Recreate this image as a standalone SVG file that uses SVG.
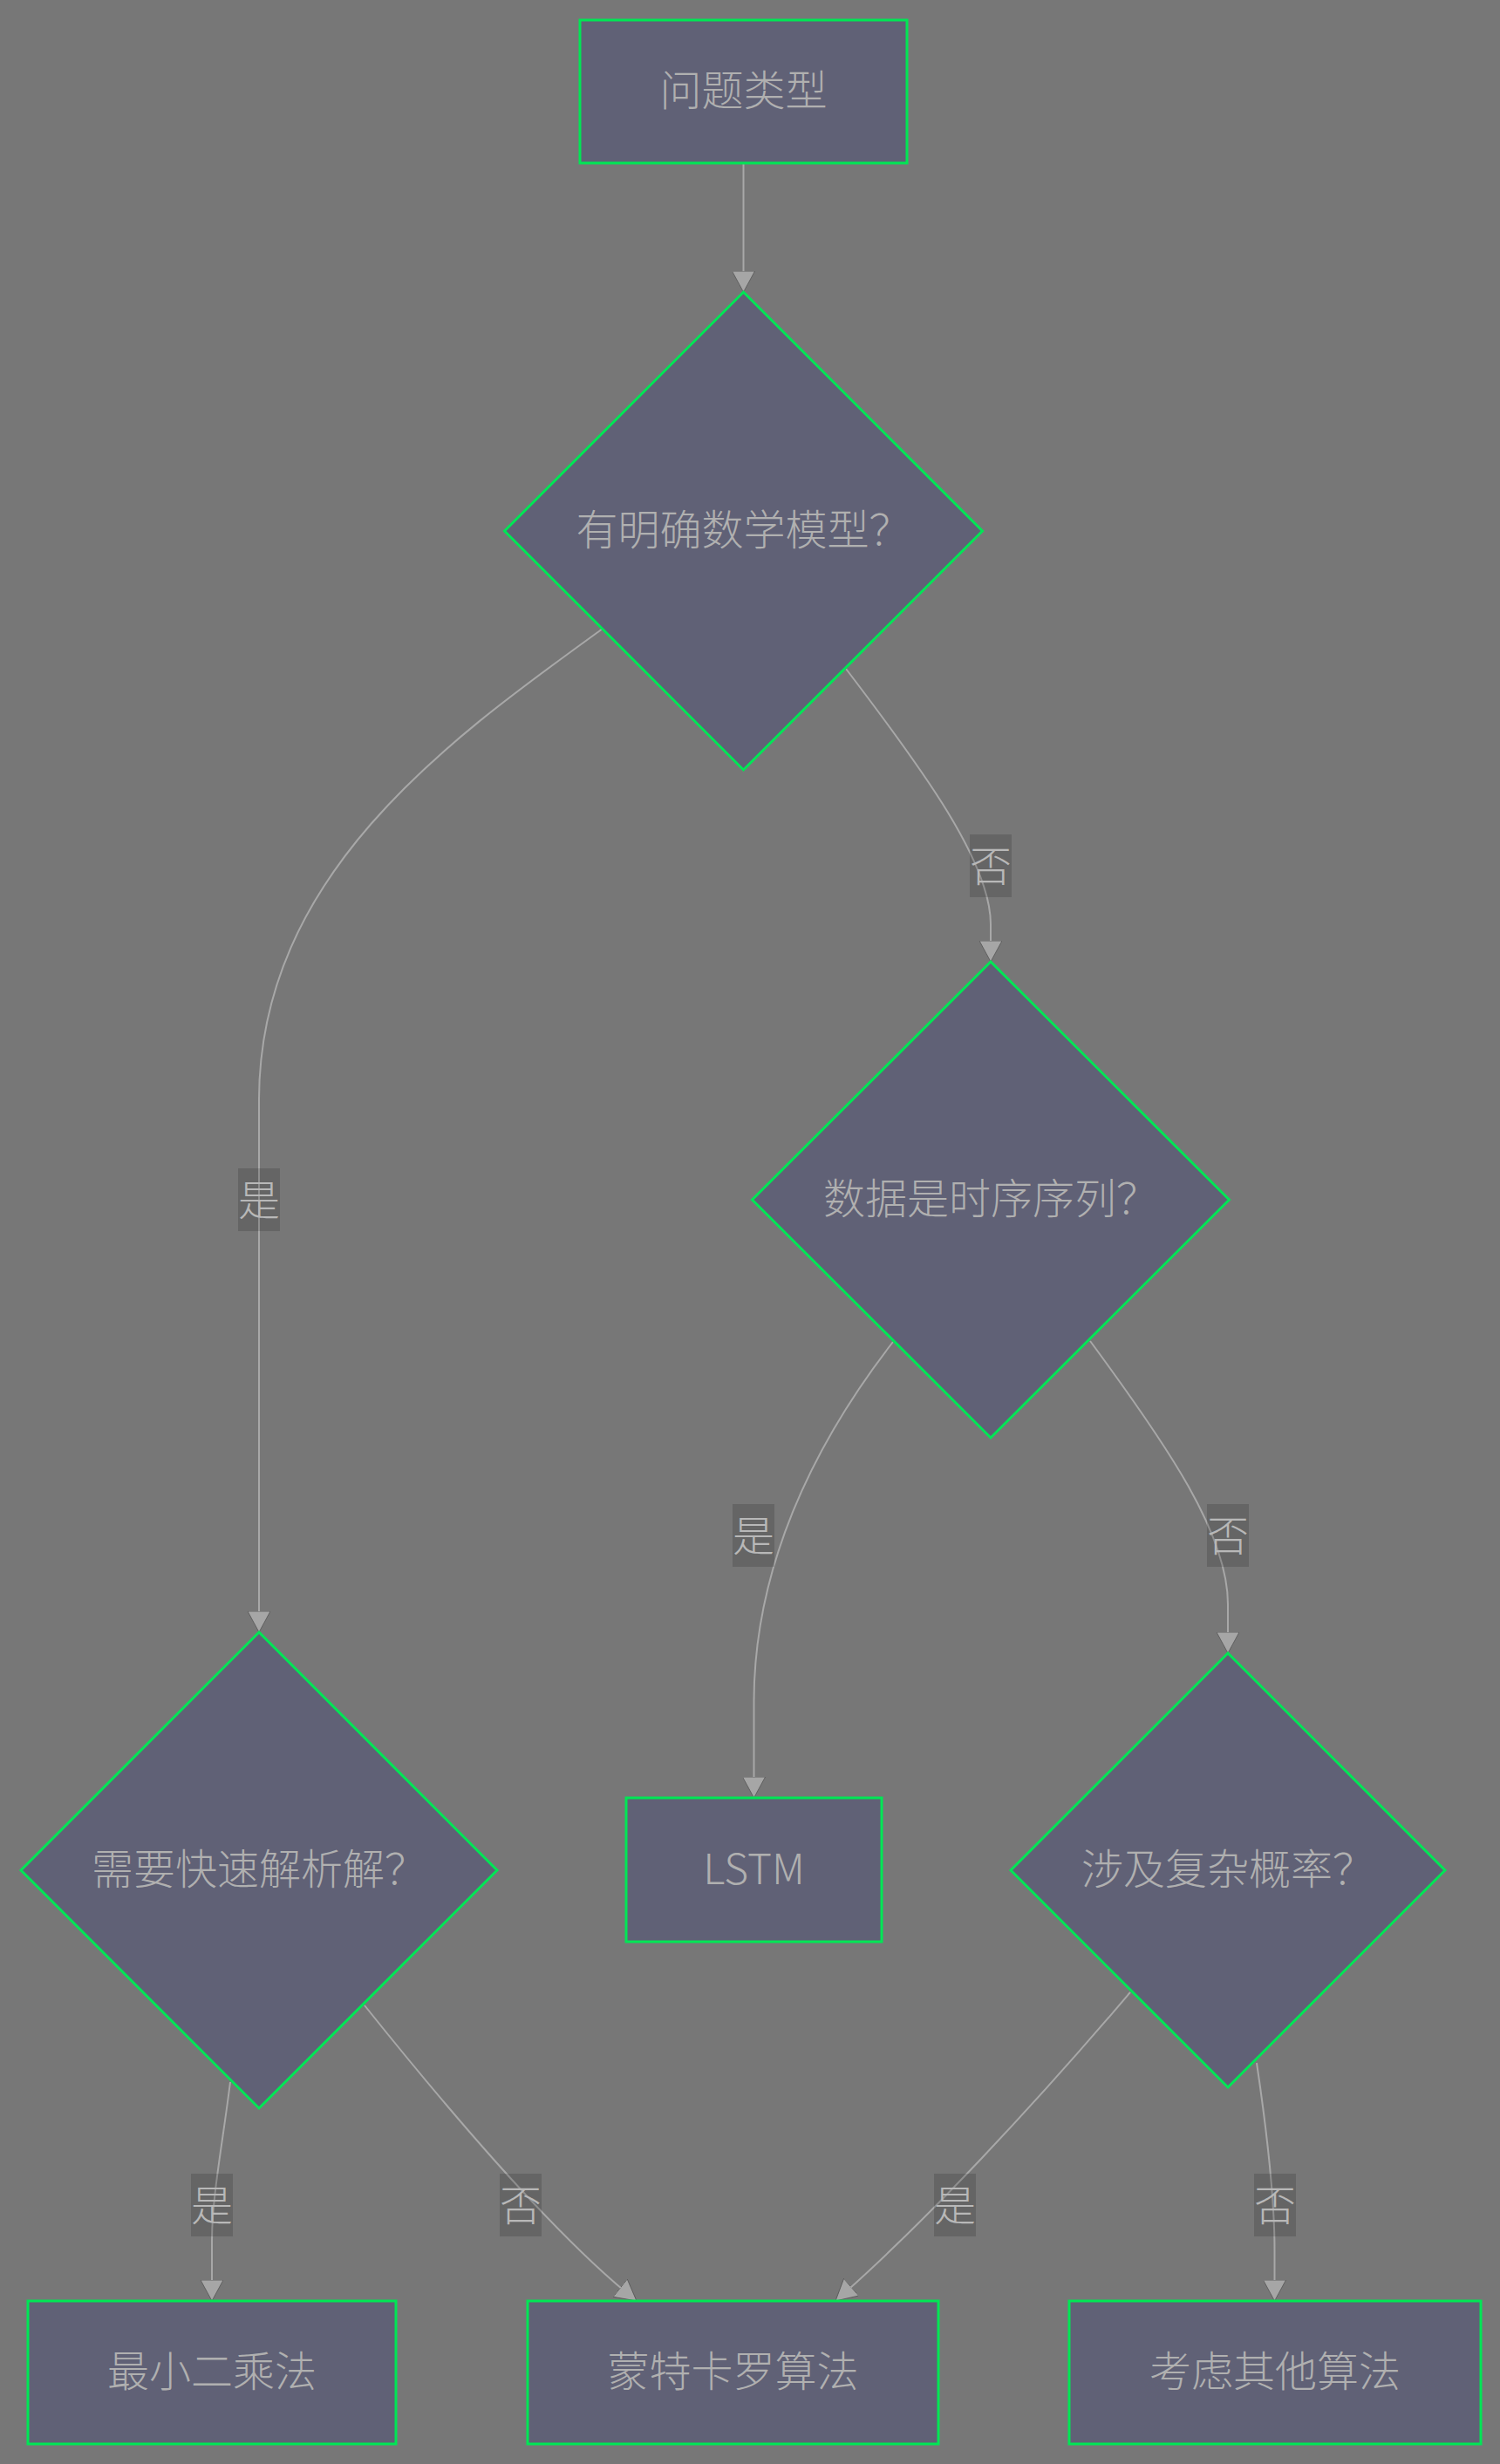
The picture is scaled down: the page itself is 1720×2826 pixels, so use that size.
<svg xmlns="http://www.w3.org/2000/svg" width="1720" height="2826" viewBox="0 0 1720 2826">
  <style>
    .bg { fill: #777777; }
    .node { fill: #606176; stroke: #00e655; stroke-width: 3; }
    .ntext { fill: #b0b0b0; font-family: "Noto Sans CJK SC", "Noto Sans", sans-serif; font-size: 48px; font-weight: 300; text-anchor: middle; dominant-baseline: central; }
    .edge { fill: none; stroke: #a8a8a8; stroke-width: 2; }
    .lbg { fill: #000000; fill-opacity: 0.15; }
    .ltext { fill: #b8b8b8; font-family: "Noto Sans CJK SC", "Noto Sans", sans-serif; font-size: 48px; font-weight: 300; text-anchor: middle; dominant-baseline: central; }
  </style>
  <defs>
    <marker id="arrow" markerUnits="userSpaceOnUse" markerWidth="24" markerHeight="26" viewBox="0 0 24 26" refX="24" refY="13" orient="auto">
      <path d="M0,0 L24,13 L0,26 z" fill="#a6a6a6" stroke="#555555" stroke-width="0.8"/>
    </marker>
  </defs>
  <rect class="bg" x="0" y="0" width="1720" height="2826"/>

  <g id="edges">
    <path id="e-start-q1" class="edge" d="M852.5,187 L852.5,335" marker-end="url(#arrow)"/>
    <path id="e-q1-q3" class="edge" d="M691,721 C520,845 298,1000 297,1260 L297,1872" marker-end="url(#arrow)"/>
    <path id="e-q1-q2" class="edge" d="M970,767 C1060,885 1136,990 1136,1060 L1136,1103" marker-end="url(#arrow)"/>
    <path id="e-q2-lstm" class="edge" d="M1024,1539 C930,1660 865,1800 864.5,1950 L864.5,2062" marker-end="url(#arrow)"/>
    <path id="e-q2-q4" class="edge" d="M1250,1538 C1340,1660 1408,1760 1408,1840 L1408,1896" marker-end="url(#arrow)"/>
    <path id="e-q3-ls" class="edge" d="M264,2388 C255,2460 243,2520 243,2570 L243,2639" marker-end="url(#arrow)"/>
    <path id="e-q3-mc" class="edge" d="M418,2300 C490,2390 630,2560 730,2639" marker-end="url(#arrow)"/>
    <path id="e-q4-mc" class="edge" d="M1296,2285 C1190,2410 1060,2550 958,2639" marker-end="url(#arrow)"/>
    <path id="e-q4-other" class="edge" d="M1441,2366 C1452,2440 1461.5,2520 1461.5,2580 L1461.5,2639" marker-end="url(#arrow)"/>
  </g>

  <g id="edge-labels">
    <g id="lbl-q1-q3"><rect class="lbg" x="273" y="1340" width="48" height="72"/><text class="ltext" x="297" y="1373">是</text></g>
    <g id="lbl-q1-q2"><rect class="lbg" x="1112" y="957" width="48" height="72"/><text class="ltext" x="1136" y="990">否</text></g>
    <g id="lbl-q2-lstm"><rect class="lbg" x="840" y="1725" width="48" height="72"/><text class="ltext" x="864" y="1758">是</text></g>
    <g id="lbl-q2-q4"><rect class="lbg" x="1384" y="1725" width="48" height="72"/><text class="ltext" x="1408" y="1758">否</text></g>
    <g id="lbl-q3-ls"><rect class="lbg" x="219" y="2493" width="48" height="72"/><text class="ltext" x="243" y="2526">是</text></g>
    <g id="lbl-q3-mc"><rect class="lbg" x="573" y="2493" width="48" height="72"/><text class="ltext" x="597" y="2526">否</text></g>
    <g id="lbl-q4-mc"><rect class="lbg" x="1071" y="2493" width="48" height="72"/><text class="ltext" x="1095" y="2526">是</text></g>
    <g id="lbl-q4-other"><rect class="lbg" x="1438" y="2493" width="48" height="72"/><text class="ltext" x="1462" y="2526">否</text></g>
  </g>

  <g id="node-start">
    <rect class="node" x="665" y="23" width="375" height="164"/>
    <text class="ntext" x="852.5" y="100">问题类型</text>
  </g>
  <g id="node-q1">
    <polygon class="node" points="852.5,335 1126.5,609 852.5,883 578.5,609"/>
    <text class="ntext" x="852.5" y="604">有明确数学模型？</text>
  </g>
  <g id="node-q2">
    <polygon class="node" points="1136,1103 1409.5,1376 1136,1649 862.5,1376"/>
    <text class="ntext" x="1136" y="1371">数据是时序序列？</text>
  </g>
  <g id="node-q3">
    <polygon class="node" points="297,1872 570,2145 297,2418 24,2145"/>
    <text class="ntext" x="297" y="2140">需要快速解析解？</text>
  </g>
  <g id="node-q4">
    <polygon class="node" points="1408,1896 1657,2145 1408,2394 1159,2145"/>
    <text class="ntext" x="1408" y="2140">涉及复杂概率？</text>
  </g>
  <g id="node-lstm">
    <rect class="node" x="718" y="2062" width="293" height="165"/>
    <text class="ntext" x="864.5" y="2140">LSTM</text>
  </g>
  <g id="node-ls">
    <rect class="node" x="32" y="2639" width="422" height="164"/>
    <text class="ntext" x="243" y="2716">最小二乘法</text>
  </g>
  <g id="node-mc">
    <rect class="node" x="605" y="2639" width="471" height="164"/>
    <text class="ntext" x="840.5" y="2716">蒙特卡罗算法</text>
  </g>
  <g id="node-other">
    <rect class="node" x="1226" y="2639" width="472" height="164"/>
    <text class="ntext" x="1462" y="2716">考虑其他算法</text>
  </g>
</svg>
